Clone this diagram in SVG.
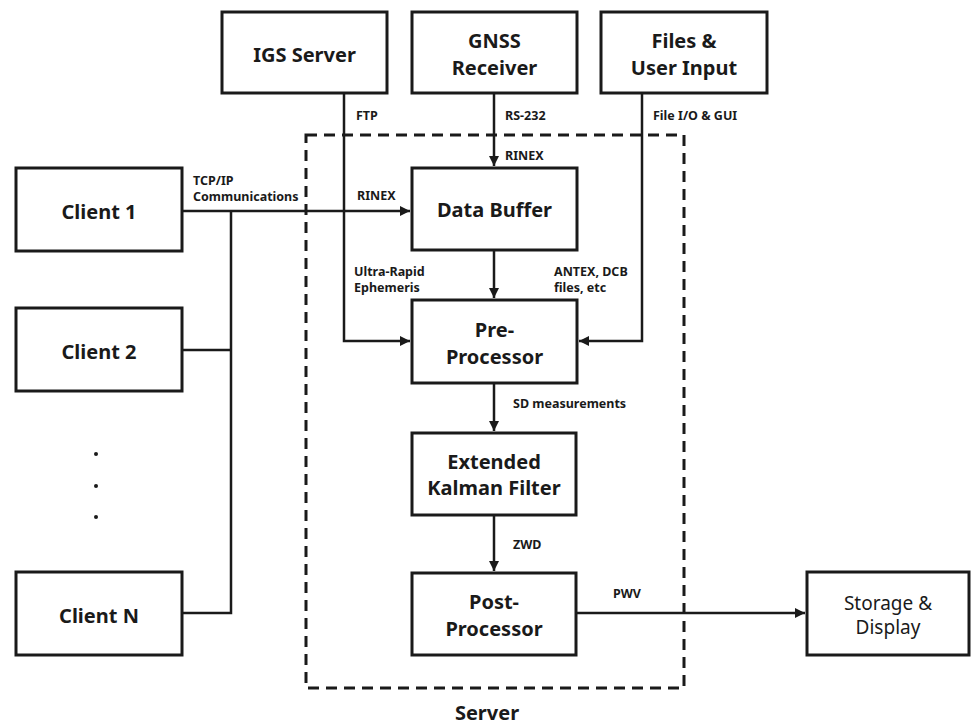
<svg xmlns="http://www.w3.org/2000/svg" width="971" height="727" viewBox="0 0 971 727">
<style>
.box{fill:#fff;stroke:#1a1a1a;stroke-width:3}
.nt{font-family:"Noto Sans","Open Sans",sans-serif;font-weight:bold;font-size:20px;fill:#1a1a1a;text-anchor:middle}
.nr{font-family:"Noto Sans","Open Sans",sans-serif;font-size:19px;fill:#1a1a1a;text-anchor:middle}
.el{font-family:"Noto Sans","Open Sans",sans-serif;font-weight:bold;font-size:12.5px;fill:#1a1a1a}
.ln{fill:none;stroke:#1a1a1a;stroke-width:2.5}
.dash{fill:none;stroke:#1a1a1a;stroke-width:3;stroke-dasharray:11 7}
</style>
<defs>
<marker id="ah" viewBox="0 0 10 10" refX="10" refY="5" markerWidth="4" markerHeight="4" orient="auto" markerUnits="strokeWidth">
<path d="M0,0 L10,5 L0,10 z" fill="#1a1a1a"/>
</marker>
</defs>
<rect width="971" height="727" fill="#fff"/>
<g id="server-boundary">
<rect class="dash" x="306" y="135" width="378" height="553"/>
<text class="nt" x="487" y="720">Server</text>
</g>
<g id="connectors">
<path class="ln" d="M344,93 V341 H410" marker-end="url(#ah)"/>
<path class="ln" d="M494,93 V166" marker-end="url(#ah)"/>
<path class="ln" d="M642,93 V341 H579" marker-end="url(#ah)"/>
<path class="ln" d="M182,211 H410" marker-end="url(#ah)"/>
<path class="ln" d="M231,211 V613 H182"/>
<path class="ln" d="M182,350 H231"/>
<path class="ln" d="M494,250 V298" marker-end="url(#ah)"/>
<path class="ln" d="M494,383 V431" marker-end="url(#ah)"/>
<path class="ln" d="M494,515 V571" marker-end="url(#ah)"/>
<path class="ln" d="M576,613 H805" marker-end="url(#ah)"/>
<text class="el" x="356" y="120">FTP</text>
<text class="el" x="505" y="120">RS-232</text>
<text class="el" x="653" y="120">File I/O &amp; GUI</text>
<text class="el" x="505" y="160">RINEX</text>
<text class="el" x="193" y="185">TCP/IP</text>
<text class="el" x="193" y="201">Communications</text>
<text class="el" x="357" y="200">RINEX</text>
<text class="el" x="354" y="276">Ultra-Rapid</text>
<text class="el" x="354" y="292">Ephemeris</text>
<text class="el" x="554" y="276">ANTEX, DCB</text>
<text class="el" x="554" y="292">files, etc</text>
<text class="el" x="513" y="408">SD measurements</text>
<text class="el" x="513" y="549">ZWD</text>
<text class="el" x="613" y="598">PWV</text>
</g>
<g id="igs-server">
<rect class="box" x="222" y="12" width="165" height="81"/>
<text class="nt" x="304.5" y="62">IGS Server</text>
</g>
<g id="gnss-receiver">
<rect class="box" x="412" y="12" width="165" height="81"/>
<text class="nt" x="494.5" y="48">GNSS</text>
<text class="nt" x="494.5" y="75">Receiver</text>
</g>
<g id="files-user-input">
<rect class="box" x="601" y="12" width="166" height="81"/>
<text class="nt" x="684" y="48">Files &amp;</text>
<text class="nt" x="684" y="75">User Input</text>
</g>
<g id="client-1">
<rect class="box" x="16" y="168" width="166" height="83"/>
<text class="nt" x="99" y="219">Client 1</text>
</g>
<g id="client-2">
<rect class="box" x="16" y="308" width="166" height="83"/>
<text class="nt" x="99" y="359">Client 2</text>
</g>
<g id="client-dots">
<circle cx="96" cy="454" r="2" fill="#1a1a1a"/>
<circle cx="96" cy="486" r="2" fill="#1a1a1a"/>
<circle cx="96" cy="517" r="2" fill="#1a1a1a"/>
</g>
<g id="client-n">
<rect class="box" x="16" y="572" width="166" height="83"/>
<text class="nt" x="99" y="623">Client N</text>
</g>
<g id="data-buffer">
<rect class="box" x="412" y="168" width="165" height="82"/>
<text class="nt" x="494.5" y="217">Data Buffer</text>
</g>
<g id="pre-processor">
<rect class="box" x="412" y="300" width="165" height="83"/>
<text class="nt" x="494.5" y="337">Pre-</text>
<text class="nt" x="494.5" y="364">Processor</text>
</g>
<g id="ekf">
<rect class="box" x="412" y="433" width="164" height="82"/>
<text class="nt" x="494" y="469">Extended</text>
<text class="nt" x="494" y="495">Kalman Filter</text>
</g>
<g id="post-processor">
<rect class="box" x="412" y="573" width="164" height="82"/>
<text class="nt" x="494" y="609">Post-</text>
<text class="nt" x="494" y="636">Processor</text>
</g>
<g id="storage-display">
<rect class="box" x="807" y="572" width="162" height="83"/>
<text class="nr" x="888" y="610">Storage &amp;</text>
<text class="nr" x="888" y="634">Display</text>
</g>
</svg>
